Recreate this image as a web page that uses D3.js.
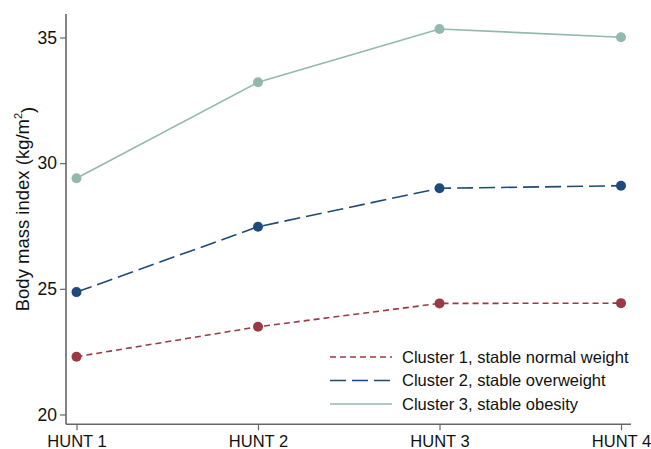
<!DOCTYPE html>
<html><head><meta charset="utf-8">
<script src="https://cdn.jsdelivr.net/npm/d3@7"></script>
<style>body{margin:0;background:#fff}svg{display:block}text{font-family:"Liberation Sans",Arial,sans-serif;fill:#111}</style>
</head><body><svg id="c" width="651" height="449"></svg>
<script>
const waves = ["HUNT 1","HUNT 2","HUNT 3","HUNT 4"];
const cluster1 = [22.3, 23.49, 24.42, 24.43];
const cluster2 = [24.87, 27.47, 29.0, 29.1];
const cluster3 = [29.4, 33.22, 35.34, 35.01];
const seriesNames = ["Cluster 1, stable normal weight","Cluster 2, stable overweight","Cluster 3, stable obesity"];
const yTicks = [20,25,30,35];

const colors = ["#9a3a43","#1d4a78","#93b9ae"];
const dashes = ["6,4","16,6",null];
const series = [cluster1, cluster2, cluster3];

const svg = d3.select("#c");
const x = d3.scalePoint().domain(waves).range([76.5, 621]);
const y = d3.scaleLinear().domain([19.61, 35.935]).range([424.3, 14]);

const axisColor = "#666";
const ya = svg.append("g").attr("transform","translate(66,0)")
  .call(d3.axisLeft(y).tickValues(yTicks).tickSize(6).tickPadding(3));
ya.select(".domain").attr("d", `M0,${y.range()[1]}V${y.range()[0]}`);
const xa = svg.append("g").attr("transform",`translate(0,${y.range()[0]})`)
  .call(d3.axisBottom(x).tickSize(6).tickPadding(3));
xa.select(".domain").attr("d", `M66,0H631`);
[ya, xa].forEach(g=>{
  g.selectAll(".domain").attr("stroke",axisColor).attr("stroke-width",1.6);
  g.selectAll(".tick line").attr("stroke",axisColor).attr("stroke-width",1.2);
  g.selectAll(".tick text").attr("fill","#111")
    .attr("font-family","'Liberation Sans',Arial,sans-serif");
});
ya.selectAll(".tick text").attr("font-size",17.5);
xa.selectAll(".tick text").attr("font-size",16.5).attr("dy","0.85em");

const t = svg.append("text").attr("transform","translate(29,209) rotate(-90)")
  .attr("text-anchor","middle").attr("font-size",18.5);
t.append("tspan").text("Body mass index (kg/m");
t.append("tspan").text("2").attr("font-size",11).attr("dy","-0.6em");
t.append("tspan").text(")").attr("dy","0.6em");

const line = d3.line().x((d,i)=>x(waves[i])).y(d=>y(d));
series.forEach((s,k)=>{
  svg.append("path").attr("d", line(s)).attr("fill","none")
    .attr("stroke", colors[k]).attr("stroke-width",1.6)
    .attr("stroke-dasharray", dashes[k]);
  svg.selectAll(null).data(s).enter().append("circle")
    .attr("cx",(d,i)=>x(waves[i])).attr("cy",d=>y(d)).attr("r",5)
    .attr("fill",colors[k]);
});

const lg = svg.append("g");
seriesNames.forEach((n,k)=>{
  const yy = 357 + k*23.5;
  lg.append("line").attr("x1",330).attr("x2",392).attr("y1",yy).attr("y2",yy)
    .attr("stroke",colors[k]).attr("stroke-width",1.6).attr("stroke-dasharray",dashes[k]);
  lg.append("text").attr("x",402).attr("y",yy).attr("dy","0.35em")
    .attr("font-size",16.5).text(n);
});
</script></body></html>
